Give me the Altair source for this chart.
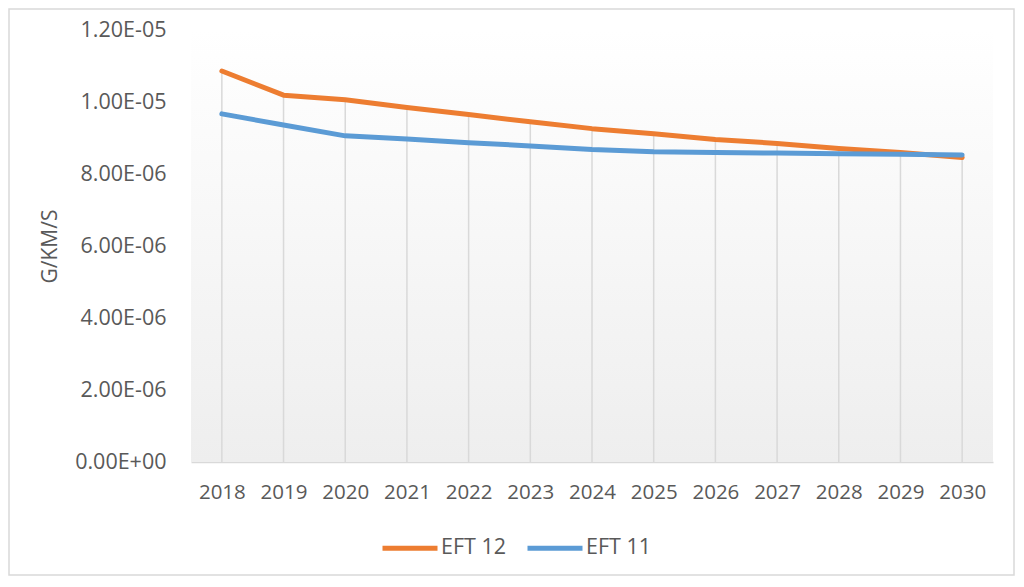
import altair as alt
import pandas as pd

# ---- data ----
years = [2018, 2019, 2020, 2021, 2022, 2023, 2024,
         2025, 2026, 2027, 2028, 2029, 2030]
eft12 = [10.86e-6, 10.19e-6, 10.06e-6, 9.85e-6, 9.65e-6, 9.45e-6, 9.26e-6,
         9.12e-6, 8.96e-6, 8.85e-6, 8.71e-6, 8.60e-6, 8.46e-6]
eft11 = [9.67e-6, 9.36e-6, 9.06e-6, 8.97e-6, 8.87e-6, 8.78e-6, 8.68e-6,
         8.62e-6, 8.60e-6, 8.58e-6, 8.56e-6, 8.55e-6, 8.53e-6]
series_names = ["EFT 12", "EFT 11"]
series_colors = ["#ED7D31", "#5B9BD5"]
y_ticks = [0.0, 2e-6, 4e-6, 6e-6, 8e-6, 1.0e-5, 1.2e-5]
y_title = "G/KM/S"

# ---- tables ----
long_df = pd.DataFrame({
    "year": years + years,
    "value": eft12 + eft11,
    "series": [series_names[0]] * len(years) + [series_names[1]] * len(years),
})
drop_df = pd.DataFrame({
    "year": years,
    "top": [max(a, b) for a, b in zip(eft12, eft11)],
    "bottom": [0.0] * len(years),
})
one = pd.DataFrame({"k": [0]})

W, H = 802, 432
TXT = "#595959"
GRID = "#d9d9d9"
FONT = "Open Sans"

# categories centred in equal slots (half a slot at each end)
x_scale = alt.Scale(domain=[years[0] - 0.5, years[-1] + 0.5], nice=False, zero=False)
y_scale = alt.Scale(domain=[0, 1.2e-5], nice=False, zero=True)

label_expr = "replace(replace(format(datum.value, '.2e'), 'e-', 'E-0'), 'e+', 'E+0')"

x_axis = alt.Axis(
    title=None, values=years, format="d", labelAngle=0, ticks=False, grid=False,
    domainColor=GRID, domainWidth=1.5,
    labelFont=FONT, labelFontSize=20.5, labelColor=TXT, labelPadding=20,
)
y_axis = alt.Axis(
    values=y_ticks, labelExpr=label_expr, domain=False, ticks=False, grid=False,
    labelFont=FONT, labelFontSize=21.5, labelColor=TXT, labelPadding=25,
    title=y_title, titleFont=FONT, titleFontSize=21, titleFontWeight="normal",
    titleColor=TXT, titleX=-131, titleY=H / 2,
)

border = alt.Chart(one).mark_rect(
    fillOpacity=0, stroke=GRID, strokeWidth=1.5, clip=False
).encode(
    x=alt.value(-182), x2=alt.value(823), y=alt.value(-21), y2=alt.value(545)
)

background = alt.Chart(one).mark_rect(
    color=alt.LinearGradient(
        gradient="linear", x1=0, y1=0, x2=0, y2=1,
        stops=[alt.GradientStop(color="#ffffff", offset=0),
               alt.GradientStop(color="#eeeeee", offset=1)],
    )
).encode(x=alt.value(0), x2=alt.value(W), y=alt.value(0), y2=alt.value(H))

drops = alt.Chart(drop_df).mark_rule(color=GRID, strokeWidth=1.5).encode(
    x=alt.X("year:Q", scale=x_scale, axis=x_axis),
    y=alt.Y("top:Q", scale=y_scale, axis=y_axis),
    y2="bottom:Q",
)

lines = alt.Chart(long_df).mark_line(strokeWidth=5, strokeCap="round", strokeJoin="round").encode(
    x=alt.X("year:Q", scale=x_scale, axis=x_axis),
    y=alt.Y("value:Q", scale=y_scale, axis=y_axis),
    color=alt.Color(
        "series:N",
        sort=series_names,
        scale=alt.Scale(domain=series_names, range=series_colors),
        legend=alt.Legend(
            title=None, orient="none", direction="horizontal",
            legendX=189, legendY=488,
            symbolType="stroke", symbolSize=3025, symbolStrokeWidth=5,
            labelFont=FONT, labelFontSize=21.5, labelColor=TXT,
            labelOffset=1, columnPadding=10, padding=0,
        ),
    ),
)

chart = alt.layer(border, background, drops, lines).properties(
    width=W, height=H,
    autosize=alt.AutoSizeParams(type="none"),
    padding={"left": 183, "top": 22, "right": 23, "bottom": 115},
).configure_view(stroke=None)

chart.save("out.html", embed_options={"renderer": "svg", "actions": False})
